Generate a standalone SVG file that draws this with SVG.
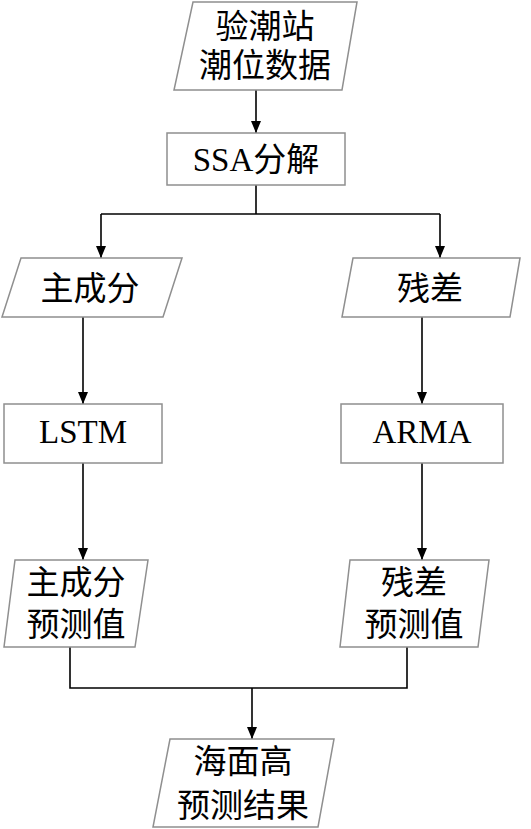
<svg xmlns="http://www.w3.org/2000/svg" width="531" height="829" viewBox="0 0 531 829">
<style>
.box{fill:#fff;stroke:#8f8f8f;stroke-width:1.5}
.t{font-family:"Liberation Serif","Noto Sans CJK SC",serif;font-size:33px;fill:#000;text-anchor:middle}
.c{fill:none;stroke:#000;stroke-width:1.6}
</style>
<defs>
<marker id="ah" viewBox="0 0 10 12" markerWidth="10" markerHeight="12" refX="5" refY="12" orient="0" markerUnits="userSpaceOnUse">
<path d="M0,0 L10,0 L5,12 z" fill="#000"/>
</marker>
</defs>
<rect width="531" height="829" fill="#fff"/>
<g id="connectors">
<path class="c" d="M256,90 V133" marker-end="url(#ah)"/>
<path class="c" d="M256,185 V214"/>
<path class="c" d="M101,214 H440"/>
<path class="c" d="M101,214 V258" marker-end="url(#ah)"/>
<path class="c" d="M440,214 V258" marker-end="url(#ah)"/>
<path class="c" d="M83,317 V404" marker-end="url(#ah)"/>
<path class="c" d="M422,317 V404" marker-end="url(#ah)"/>
<path class="c" d="M83,463 V560" marker-end="url(#ah)"/>
<path class="c" d="M422,463 V560" marker-end="url(#ah)"/>
<path class="c" d="M70,647 V688 H407 V647"/>
<path class="c" d="M252,688 V739" marker-end="url(#ah)"/>
</g>
<g id="n1">
<polygon class="box" points="193,2 357,2 342,90 174,90"/>
<text class="t" x="265" y="38">验潮站</text>
<text class="t" x="265" y="77">潮位数据</text>
</g>
<g id="n2">
<rect class="box" x="167" y="133" width="178" height="52"/>
<text class="t" x="256" y="171">SSA分解</text>
</g>
<g id="n3">
<polygon class="box" points="21,258 182,258 163,317 2,317"/>
<text class="t" x="90" y="300">主成分</text>
</g>
<g id="n4">
<polygon class="box" points="353,258 520,258 510,317 342,317"/>
<text class="t" x="430" y="300">残差</text>
</g>
<g id="n5">
<rect class="box" x="4" y="404" width="158" height="59"/>
<text class="t" x="83" y="443">LSTM</text>
</g>
<g id="n6">
<rect class="box" x="341" y="404" width="162" height="59"/>
<text class="t" x="422" y="443">ARMA</text>
</g>
<g id="n7">
<polygon class="box" points="15,560 148,560 135,647 4,647"/>
<text class="t" x="76" y="594">主成分</text>
<text class="t" x="76" y="636">预测值</text>
</g>
<g id="n8">
<polygon class="box" points="350,560 489,560 478,647 340,647"/>
<text class="t" x="414" y="594">残差</text>
<text class="t" x="414" y="636">预测值</text>
</g>
<g id="n9">
<polygon class="box" points="170,739 334,739 318,827 153,827"/>
<text class="t" x="243" y="773">海面高</text>
<text class="t" x="243" y="817">预测结果</text>
</g>
</svg>
